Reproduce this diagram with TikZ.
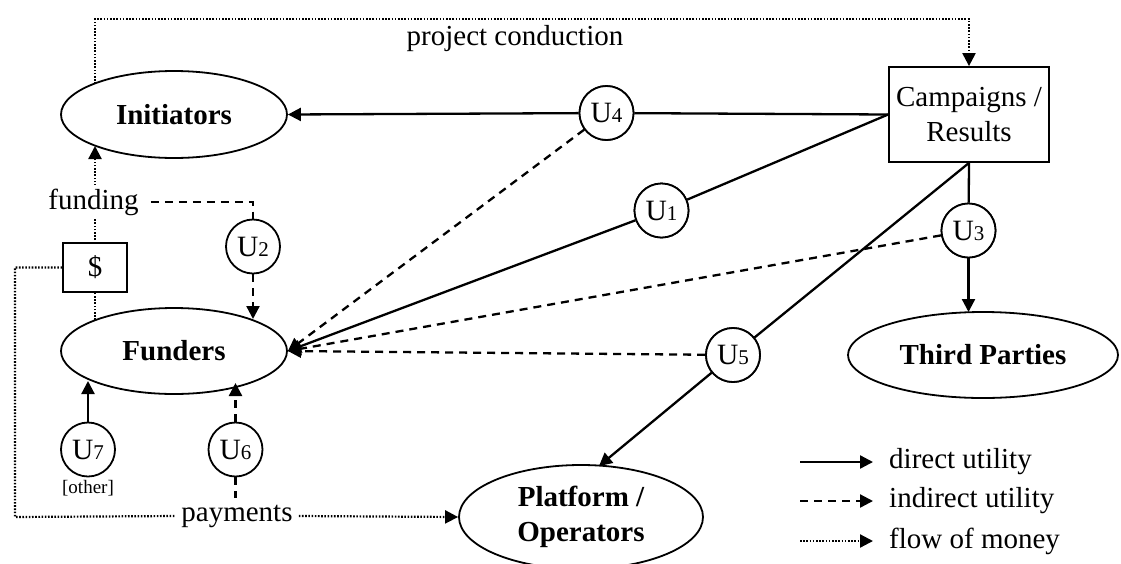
\documentclass[tikz,border=0pt]{standalone}
\usepackage{fontspec}
\setmainfont{Liberation Serif}
\usetikzlibrary{arrows.meta,shapes.geometric,calc}
\newcommand{\ulab}[1]{U{\fontsize{21}{21}\selectfont #1}}
\begin{document}
\begin{tikzpicture}[x=1pt,y=-1pt,
  every node/.style={font=\fontsize{29}{35}\selectfont},
  actor/.style={ellipse,draw,line width=1.8pt,inner sep=0pt,font=\fontsize{29}{35}\selectfont\bfseries,align=center},
  ucirc/.style={circle,draw,line width=1.8pt,minimum size=54pt,inner sep=0pt,fill=white,font=\fontsize{29.5}{30}\selectfont},
  tip/.style={-{Triangle[length=13pt,width=13pt]}},
  direct/.style={line width=2.3pt},
  indirect/.style={line width=2.3pt,dash pattern=on 8pt off 6pt},
  money/.style={line width=2.2pt,dash pattern=on 1.6pt off 1.6pt},
  lbl/.style={fill=white,inner sep=4pt}
]
\path[use as bounding box,fill=white] (0,0) rectangle (1121,563);

% main nodes
\node[actor,minimum width=226pt,minimum height=87pt] (init) at (174,114.5) {Initiators};
\node[actor,minimum width=226pt,minimum height=86pt] (fund) at (174,351) {Funders};
\node[actor,minimum width=270pt,minimum height=86pt] (third) at (983,355) {Third Parties};
\node[actor,minimum width=244pt,minimum height=104pt] (plat) at (581,517) {Platform /\\Operators};
\node[draw,line width=1.8pt,minimum width=160pt,minimum height=95pt,align=center,inner sep=0pt] (camp) at (969,114.5) {Campaigns /\\Results};

% utility circles
\node[ucirc] (U4) at (606.5,113) {\ulab{4}};
\node[ucirc] (U1) at (661.5,210.5) {\ulab{1}};
\node[ucirc] (U3) at (968.5,230.5) {\ulab{3}};
\node[ucirc] (U5) at (733,355) {\ulab{5}};
\node[ucirc] (U2) at (253,246.5) {\ulab{2}};
\node[ucirc] (U7) at (88,449.5) {\ulab{7}};
\node[ucirc] (U6) at (235.5,449.5) {\ulab{6}};
\node[font=\fontsize{19}{20}\selectfont,inner sep=0pt] (other) at (88,488) {[other]};

% coordinates
\coordinate (inittop) at (95,84);
\coordinate (initbot) at (95,146);
\coordinate (fundtop) at (95,320);
\coordinate (c1) at (95,19);
\coordinate (c2) at (15,517);
\coordinate (u2tip) at (253,319);
\coordinate (u7tip) at (88,381);
\coordinate (u6tip) at (235.5,383);
\coordinate (u6end) at (235.5,498);
\coordinate (plattip) at (599,466);
\coordinate (thirdtip) at (968.5,312);

% money flows
\draw[money,tip] (inittop) -- (c1) -| (camp.north);
\node[anchor=base,inner sep=0pt,fill=white] (proj) at (515,45) {project conduction};
\draw[money,tip] (fundtop) -- (initbot);
\node[lbl,anchor=base,inner xsep=12pt] (funding) at (93.5,209) {funding};
\node[draw,line width=1.8pt,minimum width=64pt,minimum height=49pt,inner sep=0pt,fill=white] (dollar) at (95,267.5) {\$};
\node[inner sep=6pt] (pay) at (237,516) {payments};
\draw[money] (dollar.west) -| (c2) -- (pay.west);
\draw[money,tip] (pay.east) -- (plat.west);

% direct utility
\draw[direct,tip] (U4) -- (init.east);
\draw[direct] (U4) -- (camp.west);
\draw[direct] (camp.west) -- (U1);
\draw[direct,tip] (U1) -- (fund.east);
\draw[direct] (camp.south) -- (U3);
\draw[direct,tip] (U3) -- (thirdtip);
\draw[direct] (camp.south) -- (U5);
\draw[direct,tip] (U5) -- (plattip);
\draw[direct,tip] (U7) -- (u7tip);

% indirect utility
\draw[indirect,tip] (U4) -- (fund.east);
\draw[indirect,tip] (U3) -- (fund.east);
\draw[indirect,tip] (U5) -- (fund.east);
\draw[indirect] (funding.east) -| (U2.north);
\draw[indirect,tip] (U2) -- (u2tip);
\draw[indirect,tip] (U6) -- (u6tip);
\draw[indirect] (U6) -- (u6end);

% redraw circles on top of crossing lines
\node[ucirc] at (U4) {\ulab{4}};
\node[ucirc] at (U1) {\ulab{1}};
\node[ucirc] at (U3) {\ulab{3}};
\node[ucirc] at (U5) {\ulab{5}};

% legend
\coordinate (l1s) at (800,462); \coordinate (l1e) at (873,462);
\coordinate (l2s) at (800,501); \coordinate (l2e) at (873,501);
\coordinate (l3s) at (800,541); \coordinate (l3e) at (873,541);
\draw[direct,tip] (l1s) -- (l1e);
\draw[indirect,tip] (l2s) -- (l2e);
\draw[money,tip] (l3s) -- (l3e);
\node[anchor=west,inner sep=0pt] (t1) at (889,462) {direct utility};
\node[anchor=west,inner sep=0pt] (t2) at (889,501) {indirect utility};
\node[anchor=west,inner sep=0pt] (t3) at (889,541) {flow of money};
\end{tikzpicture}
\end{document}
